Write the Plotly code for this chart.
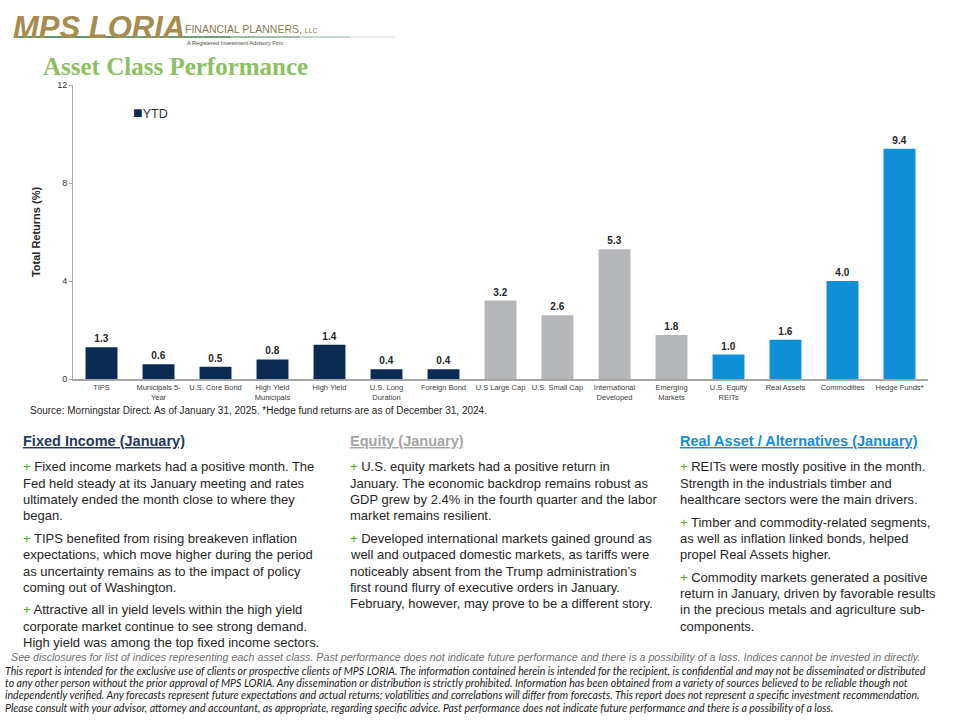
import plotly.graph_objects as go

categories = ["TIPS", "Municipals 5-<br>Year", "U.S. Core Bond", "High Yield<br>Municipals", "High Yield",
              "U.S. Long<br>Duration", "Foreign Bond", "U.S Large Cap", "U.S. Small Cap",
              "International<br>Developed", "Emerging<br>Markets", "U.S. Equity<br>REITs",
              "Real Assets", "Commodities", "Hedge Funds*"]
ytd = [1.3, 0.6, 0.5, 0.8, 1.4, 0.4, 0.4, 3.2, 2.6, 5.3, 1.8, 1.0, 1.6, 4.0, 9.4]
groups = ["fixed"] * 7 + ["equity"] * 4 + ["real"] * 4
group_colors = {"fixed": "#0b2b52", "equity": "#b5b7ba", "real": "#0f8fd8"}
y_ticks = [0, 4, 8, 12]

W, H = 960, 720
L, R, T, B = 73, 928, 85, 379


def px(x):
    return (x - L) / (R - L)


def py(y):
    return (B - y) / (B - T)


fig = go.Figure()
fig.add_trace(go.Bar(
    x=categories, y=ytd, name="YTD",
    marker=dict(color=[group_colors[g] for g in groups], line=dict(width=0)),
    texttemplate="<b>%{y:.1f}</b>", textposition="outside",
    textfont=dict(size=10, color="#262626", family="Liberation Sans"),
    cliponaxis=False, showlegend=False,
))

fig.update_layout(
    width=W, height=H,
    margin=dict(l=L, r=W - R, t=T, b=H - B),
    paper_bgcolor="white", plot_bgcolor="white",
    bargap=0.44,
    font=dict(family="Liberation Sans", color="#262626"),
    xaxis=dict(showline=True, linecolor="#a6a6a6", linewidth=2, ticks="",
               tickfont=dict(size=7.5, color="#404040"), tickangle=0, fixedrange=True),
    yaxis=dict(range=[0, 12], tickvals=y_ticks, showgrid=False, zeroline=False,
               showline=True, linecolor="#a6a6a6", linewidth=1,
               ticks="outside", ticklen=3, tickcolor="#a6a6a6",
               tickfont=dict(size=9, color="#333333"),
               title=dict(text="<b>Total Returns (%)</b>", font=dict(size=11, color="#262626"),
                          standoff=14)),
)

ann = []


def text(x, y, s, size, color="#262626", family="Liberation Sans", style="normal",
         xanchor="left", yanchor="middle"):
    ann.append(dict(x=px(x), y=py(y), xref="paper", yref="paper", text=s, showarrow=False,
                    xanchor=xanchor, yanchor=yanchor, align="left",
                    font=dict(size=size, color=color, family=family, style=style)))


# Legend (series key)
text(131, 112, "<span style='color:#0b2b52;font-size:16px'>\u25a0</span>YTD", 12.5, color="#333333")

# Logo
text(11, 28, "<b><i>MPS LORIA</i></b>", 31, color="#a68c4e")
text(183, 29, "FINANCIAL PLANNERS, <span style='font-size:7px'>LLC</span>", 10.5, color="#8c7a4e")
text(185, 43, "A Registered Investment Advisory Firm", 5.6, color="#4a4a3a")

shapes = []
seg = [(15, 120, 1.0), (120, 230, 0.9), (230, 300, 0.6), (300, 350, 0.35), (350, 395, 0.15)]
for x0, x1, op in seg:
    shapes.append(dict(type="line", xref="paper", yref="paper", x0=px(x0), x1=px(x1), y0=py(37), y1=py(37),
                       line=dict(color="#2e7040", width=1.5), opacity=op))

# Title
text(41, 66, "<b>Asset Class Performance</b>", 25, color="#8cc063", family="Liberation Serif")

# Source
text(28, 410, "Source: Morningstar Direct. As of January 31, 2025. *Hedge fund returns are as of December 31, 2024.",
     10, color="#262626")

plus = "<span style='color:#4da52e'>+</span> "
cols = [
    (21, "<b><u>Fixed Income (January)</u></b>", "#1f3864", [
        [plus + "Fixed income markets had a positive month. The",
         "Fed held steady at its January meeting and rates",
         "ultimately ended the month close to where they",
         "began."],
        [plus + "TIPS benefited from rising breakeven inflation",
         "expectations, which move higher during the period",
         "as uncertainty remains as to the impact of policy",
         "coming out of Washington."],
        [plus + "Attractive all in yield levels within the high yield",
         "corporate market continue to see strong demand.",
         "High yield was among the top fixed income sectors."],
    ]),
    (348, "<b><u>Equity (January)</u></b>", "#a6a6a6", [
        [plus + "U.S. equity markets had a positive return in",
         "January. The economic backdrop remains robust as",
         "GDP grew by 2.4% in the fourth quarter and the labor",
         "market remains resilient."],
        [plus + "Developed international markets gained ground as",
         "well and outpaced domestic markets, as tariffs were",
         "noticeably absent from the Trump administration\u2019s",
         "first round flurry of executive orders in January.",
         "February, however, may prove to be a different story."],
    ]),
    (678, "<b><u>Real Asset / Alternatives (January)</u></b>", "#1a8bd6", [
        [plus + "REITs were mostly positive in the month.",
         "Strength in the industrials timber and",
         "healthcare sectors were the main drivers."],
        [plus + "Timber and commodity-related segments,",
         "as well as inflation linked bonds, helped",
         "propel Real Assets higher."],
        [plus + "Commodity markets generated a positive",
         "return in January, driven by favorable results",
         "in the precious metals and agriculture sub-",
         "components."],
    ]),
]
for x0, head, hcol, paras in cols:
    text(x0, 441, head, 14.5, color=hcol)
    y = 467
    for para in paras:
        for line in para:
            text(x0, y, line, 13, color="#262626")
            y += 16.3
        y += 6.3

# Footer
text(9, 657, "See disclosures for list of indices representing each asset class. Past performance does not indicate "
             "future performance and there is a possibility of a loss. Indices cannot be invested in directly.",
     10.7, color="#6e6e6e", style="italic")
foot = [
    "This report is intended for the exclusive use of clients or prospective clients of MPS LORIA. The information contained herein is intended for the recipient, is confidential and may not be disseminated or distributed",
    "to any other person without the prior approval of MPS LORIA. Any dissemination or distribution is strictly prohibited. Information has been obtained from a variety of sources believed to be reliable though not",
    "independently verified. Any forecasts represent future expectations and actual returns; volatilities and correlations will differ from forecasts. This report does not represent a specific investment recommendation.",
    "Please consult with your advisor, attorney and accountant, as appropriate, regarding specific advice. Past performance does not indicate future performance and there is a possibility of a loss.",
]
for i, line in enumerate(foot):
    text(3, 671 + i * 12.2, line, 10.6, color="#1a1a1a", family="Lato", style="italic")

fig.update_layout(annotations=ann, shapes=shapes)
fig.write_html("out.html", config={"displayModeBar": False},
               post_script="document.body.style.margin='0';")
